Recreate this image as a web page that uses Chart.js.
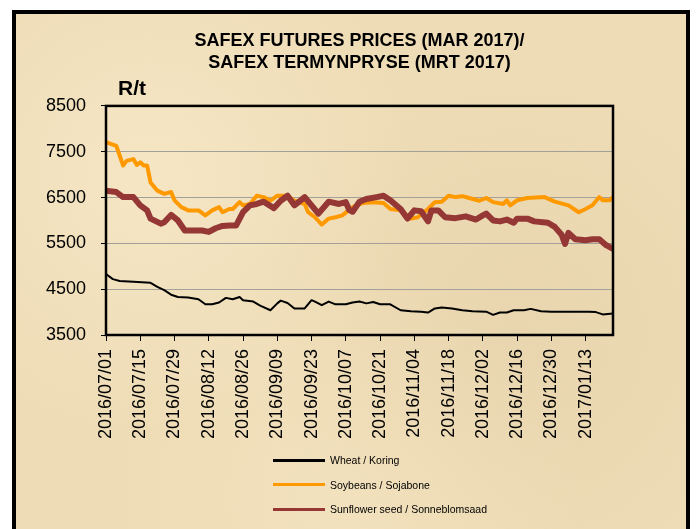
<!DOCTYPE html>
<html lang="en">
<head>
<meta charset="UTF-8">
<title>SAFEX futures prices</title>
<script src="https://cdn.jsdelivr.net/npm/chart.js"></script>
<style>
    html, body { margin: 0; padding: 0; background: #fff; }
    body { width: 696px; height: 529px; position: relative; overflow: hidden; }
    #frame {
        position: absolute; left: 12px; top: 10px; width: 678px; height: 540px;
        box-sizing: border-box; border: 4px solid #000;
        background-color: #eedcb6;
        background-image:
            radial-gradient(circle at 20% 30%, rgba(250, 236, 205, 0.6), transparent 40%),
            radial-gradient(circle at 75% 60%, rgba(226, 206, 166, 0.45), transparent 45%),
            radial-gradient(circle at 50% 90%, rgba(248, 232, 198, 0.5), transparent 40%);
    }
    #grafico { position: absolute; left: 0; top: 0; }
    #legenda {
        position: absolute; left: 273px; top: 448px;
        font-family: "Liberation Sans", Arial, sans-serif;
        font-size: 10.5px; color: #000;
    }
    .item { display: flex; align-items: center; height: 24.5px; }
    .traco { width: 52px; height: 3px; margin-right: 5px; }
</style>
</head>
<body>
    <div id="frame"></div>
    <canvas id="grafico" width="696" height="529"></canvas>
    <div id="legenda"></div>

<script>
    // tick labels every 10 trading days
    const tickLabels = ['2016/07/01', '2016/07/15', '2016/07/29', '2016/08/12', '2016/08/26',
        '2016/09/09', '2016/09/23', '2016/10/07', '2016/10/21', '2016/11/04',
        '2016/11/18', '2016/12/02', '2016/12/16', '2016/12/30', '2017/01/13'];

    const seriesNames = ['Wheat / Koring', 'Soybeans / Sojabone', 'Sunflower seed / Sonneblomsaad'];
    const seriesColors = ['#000000', '#ff9900', '#953735'];

    // trading day index (0 = 2016/07/01) and price in R/t
    const wheatDays = [0, 2, 4, 8, 13, 15, 17, 19, 21, 24, 27, 29, 31, 33, 35, 37, 39, 40, 43, 45,
        48, 50, 51, 53, 55, 58, 60, 61, 63, 65, 67, 70, 72, 74, 76, 78, 80, 83, 86, 89,
        92, 94, 96, 98, 101, 104, 107, 111, 113, 115, 117, 119, 122, 124, 127, 130, 134, 137, 141, 143,
        145, 148];
    const wheatPrices = [4830, 4720, 4680, 4660, 4640, 4550, 4480, 4380, 4330, 4320, 4280, 4170, 4170, 4210, 4310, 4280, 4330, 4260, 4230, 4140,
        4040, 4190, 4250, 4200, 4080, 4080, 4260, 4230, 4150, 4230, 4170, 4170, 4210, 4230, 4190, 4220, 4170, 4170, 4040, 4020,
        4010, 3990, 4080, 4100, 4080, 4040, 4020, 4010, 3940, 3990, 3990, 4040, 4040, 4070, 4020, 4010, 4010, 4010, 4010, 4000,
        3950, 3970];

    const soyDays = [0, 3, 5, 6, 8, 9, 10, 11, 12, 13, 15, 17, 19, 20, 22, 24, 27, 29, 31, 33,
        34, 36, 37, 39, 40, 42, 44, 46, 48, 50, 53, 55, 58, 59, 61, 63, 65, 67, 69, 72,
        73, 75, 78, 81, 83, 86, 89, 91, 94, 96, 98, 100, 102, 104, 106, 109, 111, 113, 116, 117,
        118, 120, 123, 128, 131, 135, 138, 140, 142, 144, 145, 147, 148];
    const soyPrices = [7710, 7630, 7200, 7300, 7340, 7210, 7270, 7200, 7200, 6830, 6650, 6580, 6620, 6440, 6290, 6220, 6220, 6110, 6220, 6290,
        6180, 6250, 6250, 6400, 6330, 6360, 6540, 6510, 6430, 6540, 6540, 6430, 6360, 6180, 6070, 5910, 6040, 6070, 6110, 6290,
        6330, 6380, 6400, 6380, 6250, 6220, 6040, 6070, 6250, 6400, 6410, 6540, 6510, 6530, 6490, 6430, 6490, 6400, 6360, 6440,
        6330, 6440, 6490, 6510, 6410, 6330, 6180, 6250, 6330, 6510, 6440, 6440, 6510];

    const sunDays = [0, 3, 5, 8, 10, 12, 13, 16, 17, 19, 21, 23, 26, 28, 30, 32, 34, 36, 38, 40,
        42, 44, 46, 49, 51, 53, 55, 58, 60, 62, 65, 68, 70, 71, 72, 74, 76, 79, 81, 83,
        86, 88, 90, 92, 94, 95, 97, 99, 102, 105, 108, 110, 111, 113, 115, 117, 119, 120, 123, 125,
        129, 131, 133, 134, 135, 137, 140, 142, 144, 146, 148];
    const sunPrices = [6650, 6620, 6510, 6510, 6330, 6220, 6040, 5930, 5960, 6120, 6000, 5780, 5780, 5780, 5750, 5830, 5880, 5890, 5890, 6180,
        6330, 6360, 6410, 6270, 6430, 6540, 6330, 6510, 6330, 6150, 6410, 6360, 6400, 6230, 6190, 6410, 6470, 6510, 6540, 6440,
        6250, 6040, 6220, 6200, 5980, 6220, 6220, 6070, 6050, 6090, 6020, 6110, 6150, 6000, 5980, 6020, 5950, 6040, 6040, 5980,
        5950, 5860, 5690, 5490, 5730, 5590, 5570, 5590, 5590, 5460, 5380];

    const yTicks = [3500, 4500, 5500, 6500, 7500, 8500];

    function pontos(dias, precos) {
        return dias.map((d, i) => ({ x: d, y: precos[i] }));
    }

    const fonte = '"Liberation Sans", Arial, sans-serif';

    // R/t label and the black box round the plot area
    const molduraPlugin = {
        id: 'moldura',
        afterDraw(chart) {
            const ctx = chart.ctx;
            const a = chart.chartArea;
            ctx.save();
            ctx.strokeStyle = '#000';
            ctx.lineWidth = 2.5;
            ctx.strokeRect(a.left, a.top, a.right - a.left, a.bottom - a.top);
            ctx.fillStyle = '#000';
            ctx.font = 'bold 21px ' + fonte;
            ctx.textBaseline = 'middle';
            ctx.fillText('R/t', a.left + 12, a.top - 17);
            ctx.restore();
        }
    };

    const ctx = document.getElementById('grafico').getContext('2d');
    const grafico = new Chart(ctx, {
        type: 'line',
        data: {
            datasets: [
                {
                    label: seriesNames[0],
                    data: pontos(wheatDays, wheatPrices),
                    borderColor: seriesColors[0],
                    borderWidth: 2,
                    order: 1
                },
                {
                    label: seriesNames[1],
                    data: pontos(soyDays, soyPrices),
                    borderColor: seriesColors[1],
                    borderWidth: 4,
                    order: 2
                },
                {
                    label: seriesNames[2],
                    data: pontos(sunDays, sunPrices),
                    borderColor: seriesColors[2],
                    borderWidth: 6,
                    order: 0
                }
            ]
        },
        options: {
            responsive: false,
            animation: false,
            elements: {
                point: { radius: 0 },
                line: { tension: 0, borderJoinStyle: 'round', borderCapStyle: 'round' }
            },
            layout: { padding: { left: 0, right: 83, top: 0, bottom: 84 } },
            plugins: {
                legend: { display: false },
                tooltip: { enabled: false },
                title: {
                    display: true,
                    fullSize: false,
                    text: ['SAFEX FUTURES PRICES (MAR 2017)/', 'SAFEX TERMYNPRYSE (MRT 2017)'],
                    color: '#000',
                    font: { family: fonte, size: 18, weight: 'bold', lineHeight: 1.22 },
                    padding: { top: 30, bottom: 32 }
                }
            },
            scales: {
                x: {
                    type: 'linear',
                    min: 0,
                    max: 148,
                    afterFit: s => { s.height = 110; },
                    border: { display: false },
                    grid: { drawOnChartArea: false, tickLength: 6, color: '#000', lineWidth: 1 },
                    ticks: {
                        stepSize: 10,
                        includeBounds: false,
                        autoSkip: false,
                        minRotation: 90,
                        maxRotation: 90,
                        padding: 8,
                        color: '#000',
                        font: { family: fonte, size: 18 },
                        callback: v => (v % 10 === 0 ? tickLabels[v / 10] : '')
                    }
                },
                y: {
                    min: yTicks[0],
                    max: yTicks[yTicks.length - 1],
                    afterFit: s => { s.width = 106; },
                    border: { display: false },
                    grid: { color: '#a3a09a', lineWidth: 1, tickLength: 5, tickColor: '#000' },
                    ticks: {
                        stepSize: 1000,
                        padding: 15,
                        color: '#000',
                        font: { family: fonte, size: 18 },
                        callback: v => String(v)
                    }
                }
            }
        },
        plugins: [molduraPlugin]
    });

    // legend stacked in one column, as in the original
    const legenda = document.getElementById('legenda');
    grafico.data.datasets.forEach(ds => {
        const linha = document.createElement('div');
        linha.className = 'item';
        const traco = document.createElement('span');
        traco.className = 'traco';
        traco.style.background = ds.borderColor;
        const texto = document.createElement('span');
        texto.textContent = ds.label;
        linha.appendChild(traco);
        linha.appendChild(texto);
        legenda.appendChild(linha);
    });
</script>
</body>
</html>
